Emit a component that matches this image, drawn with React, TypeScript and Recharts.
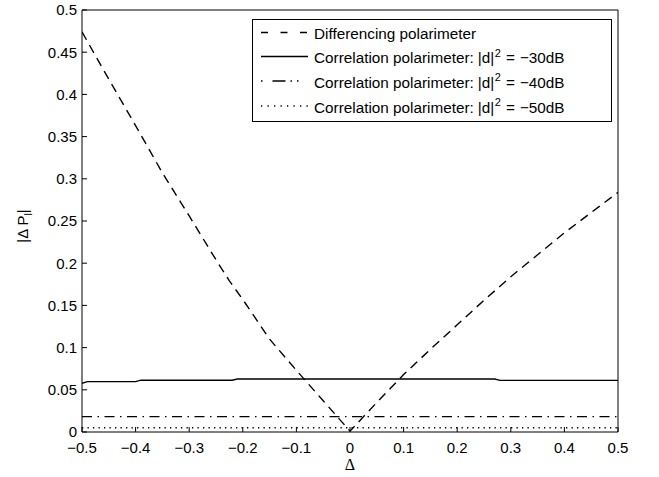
import React from 'react';
import { LineChart, Line, XAxis, YAxis, Legend } from 'recharts';

// Δ values and |ΔP_l| values
const diffX = [-0.5, -0.45, -0.4, -0.35, -0.3, -0.25, -0.225, -0.2, -0.15, -0.1, -0.05, 0, 0.05, 0.1, 0.15, 0.2, 0.25, 0.3, 0.35, 0.4, 0.45, 0.5];
const diffY = [0.474, 0.418, 0.363, 0.307, 0.256, 0.204, 0.179, 0.157, 0.11, 0.073, 0.037, 0.001, 0.035, 0.068, 0.098, 0.127, 0.156, 0.184, 0.21, 0.236, 0.26, 0.284];

const corr30X = [-0.5, -0.49, -0.4, -0.39, -0.22, -0.21, 0.27, 0.28, 0.5];
const corr30Y = [0.0577, 0.0597, 0.0597, 0.0614, 0.0614, 0.0628, 0.0628, 0.0612, 0.0612];

const corr40X = [-0.5, 0.5];
const corr40Y = [0.0182, 0.0182];

const corr50X = [-0.5, 0.5];
const corr50Y = [0.005, 0.005];

const xTicks = [-0.5, -0.4, -0.3, -0.2, -0.1, 0, 0.1, 0.2, 0.3, 0.4, 0.5];
const yTicks = [0, 0.05, 0.1, 0.15, 0.2, 0.25, 0.3, 0.35, 0.4, 0.45, 0.5];

const seriesNames = ['Differencing polarimeter', 'Correlation polarimeter:', 'Correlation polarimeter:', 'Correlation polarimeter:'];
const seriesLevel = ['', '\u221230dB', '\u221240dB', '\u221250dB'];
const seriesDash = ['9 6', '', '10 5.5 1.5 5.5', '1.3 4.2'];
const legendDash = ['7 12.5', '', '1.5 10 13 5 1.5 5', '1.3 5.2'];

const toRows = (xs: number[], ys: number[]) => xs.map((x, i) => ({ x, y: ys[i] }));

const FONT = '"Liberation Sans", Arial, Helvetica, sans-serif';

const fmt = (v: number) => (v < 0 ? '\u2212' + String(Math.abs(v)) : String(v));

const LegendBox = () => {
  const rowY = [13.5, 37.5, 62, 87];
  return (
    <svg width={360} height={103} style={{ display: 'block', fontFamily: FONT }}>
      <rect x={0.5} y={0.5} width={359} height={102} fill="#fff" stroke="#000" strokeWidth={1} />
      {seriesNames.map((n, i) => (
        <g key={i}>
          <line x1={9} x2={56} y1={rowY[i]} y2={rowY[i]} stroke="#000" strokeWidth={1.3} strokeDasharray={legendDash[i] || undefined} />
          <text x={62} y={rowY[i] + 6.5} fontSize={15.3} fill="#000">
            {n}
            {i > 0 ? (
              <>
                <tspan dx={4}>|d|</tspan>
                <tspan dy={-6.5} dx={0.5} fontSize={11}>2</tspan>
                <tspan dy={6.5} dx={5}>=</tspan>
                <tspan dx={5}>{seriesLevel[i]}</tspan>
              </>
            ) : null}
          </text>
        </g>
      ))}
    </svg>
  );
};

export default function App() {
  const datasets = [toRows(diffX, diffY), toRows(corr30X, corr30Y), toRows(corr40X, corr40Y), toRows(corr50X, corr50Y)];
  return (
    <div style={{ position: 'absolute', left: 0, top: 0, width: 659, height: 477, background: '#fff' }}>
      <LineChart width={659} height={477} margin={{ top: 9, right: 40, bottom: 0, left: 0 }} style={{ fontFamily: FONT }}>
        <XAxis
          dataKey="x"
          type="number"
          domain={[-0.5, 0.5]}
          ticks={xTicks}
          allowDataOverflow
          height={45}
          tickSize={-5}
          tickMargin={15}
          tickFormatter={fmt}
          stroke="#000"
          tick={{ fill: '#000', fontSize: 15, fontFamily: FONT }}
          label={{
            content: (p: any) => {
              const vb = p.viewBox || {};
              return (
                <text x={vb.x + vb.width / 2} y={vb.y + 38} textAnchor="middle" fontSize={16} fontFamily='"Liberation Serif", "Times New Roman", serif' fill="#000">
                  Δ
                </text>
              );
            },
          }}
        />
        <XAxis xAxisId="top" orientation="top" type="number" domain={[-0.5, 0.5]} ticks={xTicks} allowDataOverflow height={1} tickSize={-5} tick={false} stroke="#000" />
        <YAxis
          type="number"
          domain={[0, 0.5]}
          ticks={yTicks}
          allowDataOverflow
          width={82}
          tickSize={-5}
          tickMargin={10}
          tickFormatter={fmt}
          stroke="#000"
          tick={{ fill: '#000', fontSize: 15, fontFamily: FONT }}
          label={{
            content: (p: any) => {
              const vb = p.viewBox || {};
              const cx = 28;
              const cy = vb.y + vb.height / 2 + 5;
              return (
                <text x={cx} y={cy} transform={`rotate(-90 ${cx} ${cy})`} textAnchor="middle" fontSize={15} fontFamily={FONT} fill="#000">
                  |Δ P<tspan dy={4} fontSize={10.5}>l</tspan><tspan dy={-4}>|</tspan>
                </text>
              );
            },
          }}
        />
        <YAxis yAxisId="right" orientation="right" type="number" domain={[0, 0.5]} ticks={yTicks} allowDataOverflow width={1} tickSize={-5} tick={false} stroke="#000" />
        {datasets.map((d, i) => (
          <Line
            key={i}
            data={d}
            dataKey="y"
            name={seriesNames[i] + (i > 0 ? ' |d|2 = ' + seriesLevel[i] : '')}
            type="linear"
            stroke="#000"
            strokeWidth={1.4}
            strokeDasharray={seriesDash[i] || undefined}
            dot={false}
            activeDot={false}
            isAnimationActive={false}
          />
        ))}
        <Legend
          layout="vertical"
          align="center"
          verticalAlign="middle"
          content={() => <LegendBox />}
          wrapperStyle={{ position: 'absolute', left: 252, top: 19, width: 360, height: 103 }}
        />
      </LineChart>
    </div>
  );
}
